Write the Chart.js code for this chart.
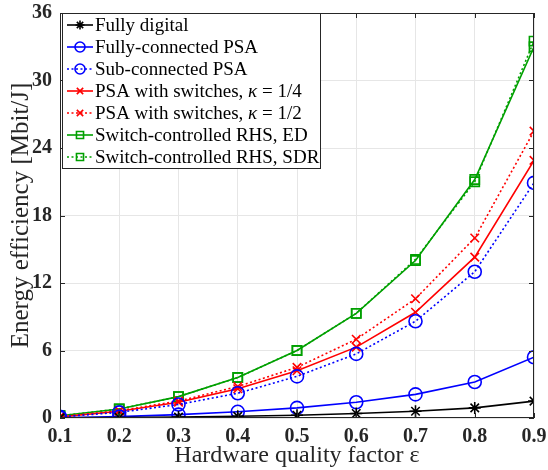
<!DOCTYPE html>
<html>
<head>
<meta charset="utf-8">
<script src="https://cdn.jsdelivr.net/npm/chart.js@4.4.1/dist/chart.umd.min.js"></script>
<style>
  html, body { margin: 0; padding: 0; background: #fff; }
  #wrap { width: 548px; height: 470px; }
</style>
</head>
<body>
<div id="wrap"><canvas id="ee-chart"></canvas></div>
<script>
// hardware quality factor (x axis)
const epsValues = [0.1, 0.2, 0.3, 0.4, 0.5, 0.6, 0.7, 0.8, 0.9];
const yTicks = [0, 6, 12, 18, 24, 30, 36];

// energy efficiency [Mbit/J]
const fullyDigital = [0.01, 0.04, 0.08, 0.15, 0.25, 0.4, 0.6, 0.9, 1.5];
const fullyConnPSA = [0.02, 0.12, 0.3, 0.55, 0.9, 1.4, 2.1, 3.2, 5.4];
const subConnPSA = [0.1, 0.5, 1.2, 2.2, 3.7, 5.7, 8.6, 13.0, 20.9];
const psaSwitchQuarter = [0.1, 0.6, 1.4, 2.6, 4.2, 6.3, 9.4, 14.3, 22.9];
const psaSwitchHalf = [0.1, 0.65, 1.5, 2.8, 4.5, 7.0, 10.6, 16.0, 25.5];
const rhsED = [0.2, 0.8, 1.9, 3.6, 6.0, 9.3, 14.0, 21.2, 33.0];
const rhsSDR = [0.2, 0.8, 1.9, 3.6, 6.0, 9.3, 14.1, 21.0, 33.5];

const labels = [
  ['Fully digital'],
  ['Fully-connected PSA'],
  ['Sub-connected PSA'],
  ['PSA with switches, ', 'κ', ' = 1/4'],
  ['PSA with switches, ', 'κ', ' = 1/2'],
  ['Switch-controlled RHS, ED'],
  ['Switch-controlled RHS, SDR']
];

const BLUE = '#0000ff', RED = '#ff0000', GREEN = '#00a000', BLACK = '#000000';
const DOT = [2, 2.5];

function series(data, color, style, dashed, radius) {
  return {
    data: epsValues.map((x, i) => ({ x: x, y: data[i] })),
    borderColor: color,
    backgroundColor: 'rgba(0,0,0,0)',
    borderWidth: 1.6,
    borderDash: dashed ? DOT : [],
    pointStyle: style,
    pointRadius: radius,
    pointBorderWidth: 1.6,
    pointBorderColor: color,
    pointBackgroundColor: 'rgba(0,0,0,0)',
    tension: 0,
    fill: false
  };
}

const datasets = [
  series(fullyDigital, BLACK, 'star', false, 6),
  series(fullyConnPSA, BLUE, 'circle', false, 6.5),
  series(subConnPSA, BLUE, 'circle', true, 6.5),
  series(psaSwitchQuarter, RED, 'crossRot', false, 6),
  series(psaSwitchHalf, RED, 'crossRot', true, 6),
  series(rhsED, GREEN, 'rect', false, 6.5),
  series(rhsSDR, GREEN, 'rect', true, 6.5)
];
datasets.forEach((d, i) => { d.label = labels[i].join(''); });

const SERIF = '"Liberation Serif", "DejaVu Serif", serif';

// keep the plot box where the figure has it, whatever the label sizes
function noPad(scale) {
  scale.paddingTop = 0; scale.paddingBottom = 0;
  scale.paddingLeft = 0; scale.paddingRight = 0;
}

// box, inward ticks and the in-plot legend, drawn like the matlab figure
const framePlugin = {
  id: 'frame',
  afterDraw(chart) {
    const ctx = chart.ctx;
    const a = chart.chartArea;
    const xs = chart.scales.x, ys = chart.scales.y;
    ctx.save();
    ctx.strokeStyle = '#262626';
    ctx.lineWidth = 1;
    ctx.strokeRect(a.left + 0.5, a.top + 0.5, a.right - a.left - 1, a.bottom - a.top - 1);
    ctx.beginPath();
    epsValues.forEach(v => {
      const px = Math.round(xs.getPixelForValue(v)) + 0.5;
      ctx.moveTo(px, a.bottom); ctx.lineTo(px, a.bottom - 5);
      ctx.moveTo(px, a.top); ctx.lineTo(px, a.top + 5);
    });
    yTicks.forEach(v => {
      const py = Math.round(ys.getPixelForValue(v)) + 0.5;
      ctx.moveTo(a.left, py); ctx.lineTo(a.left + 5, py);
      ctx.moveTo(a.right, py); ctx.lineTo(a.right - 5, py);
    });
    ctx.stroke();

    // legend
    const bx = a.left + 2, by = a.top, bw = 258, bh = 155;
    ctx.fillStyle = '#fff';
    ctx.fillRect(bx, by, bw, bh);
    ctx.strokeStyle = '#262626';
    ctx.strokeRect(bx + 0.5, by + 0.5, bw, bh);
    const rowH = 22;
    chart.data.datasets.forEach((ds, i) => {
      const cy = by + 12 + i * rowH;
      ctx.strokeStyle = ds.borderColor;
      ctx.lineWidth = 1.6;
      ctx.setLineDash(ds.borderDash);
      ctx.beginPath();
      ctx.moveTo(bx + 5, cy); ctx.lineTo(bx + 31, cy);
      ctx.stroke();
      ctx.setLineDash([]);
      ctx.fillStyle = 'rgba(0,0,0,0)';
      Chart.helpers.drawPoint(ctx, {
        pointStyle: ds.pointStyle, radius: ds.pointRadius - 1.5, rotation: 0, borderWidth: 1.6
      }, bx + 18, cy);
      let tx = bx + 33;
      ctx.fillStyle = '#000';
      ctx.textBaseline = 'middle';
      labels[i].forEach(part => {
        ctx.font = (part === 'κ' ? 'italic ' : '') + '19px ' + SERIF;
        ctx.fillText(part, tx, cy + 1);
        tx += ctx.measureText(part).width;
      });
    });
    ctx.restore();
  }
};

new Chart(document.getElementById('ee-chart'), {
  type: 'line',
  data: { datasets: datasets },
  options: {
    responsive: true,
    maintainAspectRatio: false,
    animation: false,
    layout: { padding: { left: 0, right: 14, top: 13, bottom: 0 } },
    plugins: { legend: { display: false }, tooltip: { enabled: false } },
    scales: {
      x: {
        type: 'linear',
        min: 0.1, max: 0.9,
        afterFit(scale) { scale.height = 52; noPad(scale); },
        afterBuildTicks(scale) { scale.ticks = epsValues.map(v => ({ value: v })); },
        ticks: {
          color: '#262626',
          padding: 7,
          font: { family: SERIF, size: 20, weight: 'bold' },
          callback: v => v.toFixed(1)
        },
        grid: { color: '#e6e6e6', drawTicks: false, lineWidth: 1 },
        border: { display: false },
        title: {
          display: true,
          text: 'Hardware quality factor ε',
          color: '#262626',
          padding: { top: 0, bottom: 0 },
          font: { family: SERIF, size: 24 }
        }
      },
      y: {
        min: 0, max: 36,
        afterFit(scale) { scale.width = 60; noPad(scale); },
        afterBuildTicks(scale) { scale.ticks = yTicks.map(v => ({ value: v })); },
        ticks: {
          color: '#262626',
          padding: 8,
          font: { family: SERIF, size: 20, weight: 'bold' }
        },
        grid: { color: '#e6e6e6', drawTicks: false, lineWidth: 1 },
        border: { display: false },
        title: {
          display: true,
          text: 'Energy efficiency [Mbit/J]',
          color: '#262626',
          padding: { top: 6, bottom: 0 },
          font: { family: SERIF, size: 25 }
        }
      }
    }
  },
  plugins: [framePlugin]
});
</script>
</body>
</html>
